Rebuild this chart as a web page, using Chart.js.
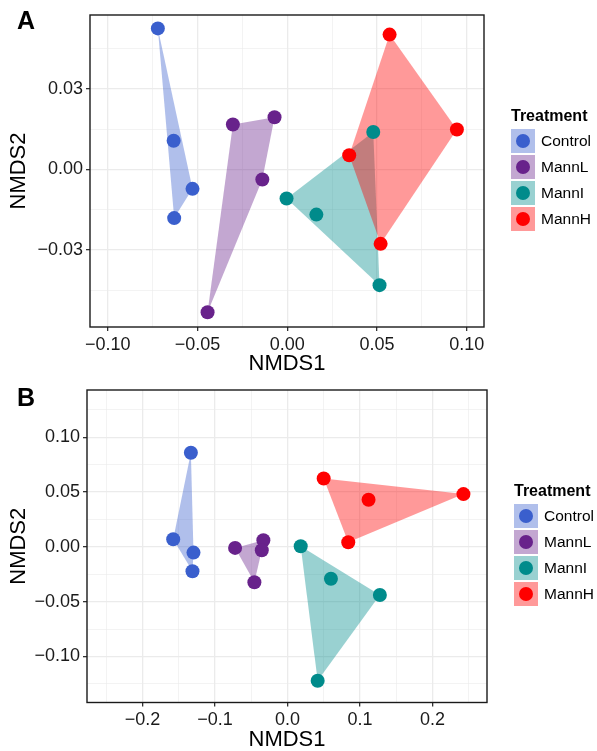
<!DOCTYPE html>
<html>
<head>
<meta charset="utf-8">
<script src="https://cdn.jsdelivr.net/npm/chart.js@4.4.1/dist/chart.umd.min.js"></script>
<style>
  body { margin: 0; background: #fff; }
  #wrap { position: relative; width: 597px; height: 751px; font-family: "Liberation Sans", Arial, sans-serif; color: #000; }
  #wrap canvas { position: absolute; left: 0; }
  .tag { position: absolute; font-weight: bold; font-size: 25px; line-height: 25px; }
  .legend { position: absolute; }
  .legend .ttl { font-weight: bold; font-size: 16px; line-height: 19px; margin-bottom: 4.6px; }
  .legend .row { display: flex; align-items: center; height: 24px; margin-bottom: 1.8px; }
  .legend .key { width: 24px; height: 24px; position: relative; }
  .legend .dot { position: absolute; left: 5px; top: 5px; width: 14px; height: 14px; border-radius: 50%; }
  .legend .lab { margin-left: 6px; font-size: 15.5px; }
</style>
</head>
<body>
<div id="wrap">
  <canvas id="chartA" width="597" height="375" style="top:0"></canvas>
  <canvas id="chartB" width="597" height="376" style="top:375px"></canvas>
  <div class="tag" style="left:17px;top:7.7px">A</div>
  <div class="tag" style="left:17px;top:385px">B</div>
</div>
<script>
// groups and colours
var groups = ['Control', 'MannL', 'MannI', 'MannH'];
var pointColors = ['#3A5FCD', '#68228B', '#008B8B', '#FF0000'];
var hullColors = ['rgba(58,95,205,0.4)', 'rgba(104,34,139,0.4)', 'rgba(0,139,139,0.4)', 'rgba(255,0,0,0.4)'];

// panel A
var groupA = ['Control', 'Control', 'Control', 'Control', 'MannL', 'MannL', 'MannL', 'MannL',
              'MannI', 'MannI', 'MannI', 'MannI', 'MannH', 'MannH', 'MannH', 'MannH'];
var nmds1A = [-0.0721, -0.0633, -0.0528, -0.0630, -0.0303, -0.0071, -0.0139, -0.0444,
              -0.0004, 0.0162, 0.0479, 0.0514, 0.0570, 0.0945, 0.0345, 0.0520];
var nmds2A = [0.0526, 0.0107, -0.0072, -0.0181, 0.0168, 0.0195, -0.0037, -0.0532,
              -0.0108, -0.0168, 0.0140, -0.0431, 0.0503, 0.0149, 0.0053, -0.0277];
var xTicksA = [-0.10, -0.05, 0, 0.05, 0.10];
var xLabelsA = ['\u22120.10', '\u22120.05', '0.00', '0.05', '0.10'];
var yTicksA = [-0.03, 0, 0.03];
var yLabelsA = ['\u22120.03', '0.00', '0.03'];

// panel B
var groupB = groupA.slice();
var nmds1B = [-0.1333, -0.1577, -0.1297, -0.1311, -0.0723, -0.0333, -0.0355, -0.0457,
              0.0182, 0.0599, 0.1274, 0.0416, 0.0499, 0.1118, 0.2427, 0.0838];
var nmds2B = [0.0859, 0.0070, -0.0052, -0.0222, -0.0009, 0.0061, -0.0030, -0.0323,
              0.0006, -0.0290, -0.0439, -0.1222, 0.0624, 0.0430, 0.0482, 0.0043];
var xTicksB = [-0.2, -0.1, 0, 0.1, 0.2];
var xLabelsB = ['\u22120.2', '\u22120.1', '0.0', '0.1', '0.2'];
var yTicksB = [-0.10, -0.05, 0, 0.05, 0.10];
var yLabelsB = ['\u22120.10', '\u22120.05', '0.00', '0.05', '0.10'];

Chart.defaults.font.family = '"Liberation Sans", Arial, sans-serif';

// convex hull (monotone chain), closed
function hull(pts) {
  var p = pts.slice().sort(function(a, b) { return a.x - b.x || a.y - b.y; });
  function cross(o, a, b) { return (a.x - o.x) * (b.y - o.y) - (a.y - o.y) * (b.x - o.x); }
  var lower = [], upper = [];
  for (var i = 0; i < p.length; i++) {
    while (lower.length >= 2 && cross(lower[lower.length - 2], lower[lower.length - 1], p[i]) <= 0) lower.pop();
    lower.push(p[i]);
  }
  for (var j = p.length - 1; j >= 0; j--) {
    while (upper.length >= 2 && cross(upper[upper.length - 2], upper[upper.length - 1], p[j]) <= 0) upper.pop();
    upper.push(p[j]);
  }
  upper.pop(); lower.pop();
  var h = lower.concat(upper);
  h.push(h[0]);
  return h;
}

function isMajor(list, v) {
  for (var i = 0; i < list.length; i++) if (Math.abs(list[i] - v) < 1e-9) return i;
  return -1;
}

function axis(ticks, labels, lim, title, titlePad, fit) {
  var step = ticks[1] - ticks[0];
  var all = ticks.slice();
  for (var i = 0; i < ticks.length - 1; i++) all.push((ticks[i] + ticks[i + 1]) / 2);
  if (ticks[0] - step / 2 > lim[0]) all.push(ticks[0] - step / 2);
  if (ticks[ticks.length - 1] + step / 2 < lim[1]) all.push(ticks[ticks.length - 1] + step / 2);
  all.sort(function(a, b) { return a - b; });
  return {
    type: 'linear',
    min: lim[0],
    max: lim[1],
    afterBuildTicks: function(s) { s.ticks = all.map(function(v) { return {value: v}; }); },
    afterFit: fit,
    ticks: {
      autoSkip: false, maxRotation: 0, padding: 3, color: '#1a1a1a', font: {size: 18},
      callback: function(v) { var k = isMajor(ticks, v); return k < 0 ? '' : labels[k]; }
    },
    grid: {
      color: '#ebebeb',
      lineWidth: function(c) { return isMajor(ticks, c.tick.value) >= 0 ? 1.3 : 0.6; },
      tickColor: function(c) { return isMajor(ticks, c.tick.value) >= 0 ? '#333' : 'rgba(0,0,0,0)'; },
      tickLength: 4,
      tickWidth: 1.3
    },
    border: {display: false},
    title: {display: true, text: title, color: '#000', font: {size: 22, lineHeight: 1.0}, padding: titlePad}
  };
}

var panelBorder = {
  id: 'panelBorder',
  afterDraw: function(chart) {
    var a = chart.chartArea, ctx = chart.ctx;
    ctx.save();
    ctx.strokeStyle = '#1a1a1a';
    ctx.lineWidth = 1.4;
    ctx.strokeRect(a.left, a.top, a.right - a.left, a.bottom - a.top);
    ctx.restore();
  }
};

function makePanel(id, grp, xs, ys, xt, xl, yt, yl, xlim, ylim, area, H) {
  var hulls = [], pts = [];
  groups.forEach(function(g, gi) {
    var d = [];
    for (var i = 0; i < grp.length; i++) if (grp[i] === g) d.push({x: xs[i], y: ys[i]});
    // later groups go on top, like ggplot
    hulls.push({
      label: g + ' hull', data: hull(d), showLine: true, fill: 'shape',
      backgroundColor: hullColors[gi], borderColor: 'rgba(0,0,0,0)', borderWidth: 0,
      pointRadius: 0, tension: 0, order: 20 - gi
    });
    pts.push({
      label: g, data: d, pointRadius: 7, pointBorderWidth: 0,
      pointBackgroundColor: pointColors[gi], pointBorderColor: pointColors[gi],
      backgroundColor: pointColors[gi], order: 10 - gi
    });
  });
  return new Chart(document.getElementById(id), {
    type: 'scatter',
    data: {datasets: hulls.concat(pts)},
    options: {
      responsive: false, animation: false, events: [], devicePixelRatio: 1,
      layout: {padding: {left: 0, top: area.top, right: 597 - area.right, bottom: 0}},
      plugins: {legend: {display: false}, tooltip: {enabled: false}},
      scales: {
        x: axis(xt, xl, xlim, 'NMDS1', {top: 0, bottom: 0}, function(s) { s.height = H - area.bottom; }),
        y: axis(yt, yl, ylim, 'NMDS2', {top: 8, bottom: 0}, function(s) { s.width = area.left; })
      }
    },
    plugins: [panelBorder]
  });
}

function makeLegend(left, top) {
  var box = document.createElement('div');
  box.className = 'legend';
  box.style.left = left + 'px';
  box.style.top = top + 'px';
  var t = document.createElement('div');
  t.className = 'ttl';
  t.textContent = 'Treatment';
  box.appendChild(t);
  groups.forEach(function(g, gi) {
    var row = document.createElement('div');
    row.className = 'row';
    var key = document.createElement('div');
    key.className = 'key';
    key.style.background = hullColors[gi];
    var dot = document.createElement('div');
    dot.className = 'dot';
    dot.style.background = pointColors[gi];
    key.appendChild(dot);
    var lab = document.createElement('div');
    lab.className = 'lab';
    lab.textContent = g;
    row.appendChild(key);
    row.appendChild(lab);
    box.appendChild(row);
  });
  document.getElementById('wrap').appendChild(box);
}

makePanel('chartA', groupA, nmds1A, nmds2A, xTicksA, xLabelsA, yTicksA, yLabelsA,
  [-0.1099, 0.1096], [-0.0587, 0.0576], {left: 90, right: 484, top: 15, bottom: 327}, 375);
makePanel('chartB', groupB, nmds1B, nmds2B, xTicksB, xLabelsB, yTicksB, yLabelsB,
  [-0.2766, 0.2752], [-0.142, 0.1432], {left: 87, right: 487, top: 15, bottom: 327.5}, 376);

makeLegend(511, 105.7);
makeLegend(514, 480.7);
</script>
</body>
</html>
